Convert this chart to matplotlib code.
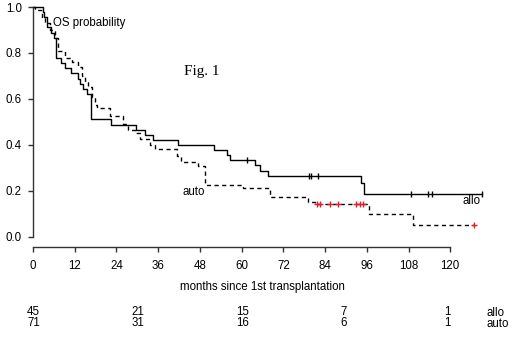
import matplotlib.pyplot as plt

plt.rcParams['font.family'] = ['Liberation Sans', 'DejaVu Sans']

# allo (solid) Kaplan-Meier steps
allo_t = [0, 2.8, 3.3, 4.0, 5.2, 6.0, 6.6, 8.0, 9.2, 11.0, 12.9, 13.6, 14.4, 15.6, 16.6,
          22.4, 29.6, 32.2, 34.5, 41.7, 52.0, 55.7, 56.6, 63.8, 65.2, 67.6, 94.3, 95.2, 129.0]
allo_s = [1.0, 0.978, 0.956, 0.911, 0.889, 0.867, 0.778, 0.756, 0.733, 0.711, 0.689, 0.667,
          0.644, 0.622, 0.511, 0.489, 0.467, 0.444, 0.422, 0.400, 0.378, 0.356, 0.333, 0.311,
          0.289, 0.265, 0.236, 0.189, 0.189]
allo_cens_t = [61.5, 79.4, 79.9, 82.0, 108.6, 113.5, 114.7, 129.0]
allo_cens_s = [0.333, 0.265, 0.265, 0.265, 0.189, 0.189, 0.189, 0.189]

# auto (dashed)
auto_t = [0, 0.7, 2.5, 3.5, 4.9, 6.3, 7.2, 9.2, 11.2, 12.9, 14.1, 14.9, 15.8, 17.0, 17.8,
          18.4, 22.1, 25.9, 27.3, 29.3, 30.7, 33.6, 35.0, 41.4, 42.5, 47.4, 49.4, 60.3,
          68.1, 79.0, 81.0, 96.6, 109.2, 126.7]
auto_s = [1.0, 0.986, 0.958, 0.93, 0.90, 0.865, 0.81, 0.78, 0.76, 0.74, 0.70, 0.675, 0.65,
          0.61, 0.574, 0.56, 0.526, 0.49, 0.465, 0.45, 0.426, 0.40, 0.383, 0.35, 0.325, 0.31,
          0.226, 0.213, 0.174, 0.152, 0.143, 0.10, 0.052, 0.052]
auto_cens_t = [81.6, 82.5, 85.3, 87.6, 92.8, 94.0, 94.8, 126.7]
auto_cens_s = [0.143] * 7 + [0.052]

# numbers at risk
risk_t = [0, 30, 60, 90, 120]
risk_allo = [45, 21, 15, 7, 1]
risk_auto = [71, 31, 16, 6, 1]

FS = 8.3
W, H = 520, 339
fig = plt.figure(figsize=(W / 100, H / 100), dpi=100)
ax = fig.add_axes([33 / W, 1 - 247 / H, (492 - 33) / W, (247 - 7) / H])
ax.set_xlim(0, 132)
ax.set_ylim(-0.0435, 1.0)

ax.step(allo_t, allo_s, where='post', color='black', lw=1.0, clip_on=False)
ax.step(auto_t, auto_s, where='post', color='black', lw=1.0, ls=(0, (3, 2.5)), clip_on=False)
ax.plot(allo_cens_t, allo_cens_s, ls='none', marker='|', ms=5, mew=1.0, color='black')
ax.plot(auto_cens_t, auto_cens_s, ls='none', marker='+', ms=5, mew=1.0, color='#e0202a')

for s in ['top', 'right']:
    ax.spines[s].set_visible(False)
ax.spines['left'].set_bounds(0, 1)
ax.spines['bottom'].set_bounds(0, 120)
for s in ['left', 'bottom']:
    ax.spines[s].set_color('#333333')
    ax.spines[s].set_linewidth(1.0)

ax.set_xticks(range(0, 121, 12))
ax.set_yticks([0, 0.2, 0.4, 0.6, 0.8, 1.0])
ax.set_yticklabels(['0.0', '0.2', '0.4', '0.6', '0.8', '1.0'])
ax.tick_params(axis='both', length=3.6, width=1.0, color='#333333', labelsize=FS)
ax.tick_params(axis='y', pad=4.5)
ax.tick_params(axis='x', pad=6)

ax.set_xlabel('months since 1st transplantation', fontsize=FS, labelpad=6)

ax.text(5.8, 0.93, 'OS probability', fontsize=FS, va='center')
ax.text(43.5, 0.72, 'Fig. 1', fontsize=11, va='center', family=['Liberation Serif'])
ax.text(43, 0.196, 'auto', fontsize=FS, va='center')
ax.text(123.5, 0.157, 'allo', fontsize=FS, va='center')

for t, a, b in zip(risk_t, risk_allo, risk_auto):
    ax.text(t - 1.7, -0.328, str(a), fontsize=FS, va='center', clip_on=False)
    ax.text(t - 1.7, -0.376, str(b), fontsize=FS, va='center', clip_on=False)
ax.text(130.5, -0.33, 'allo', fontsize=FS, va='center', clip_on=False)
ax.text(130.5, -0.378, 'auto', fontsize=FS, va='center', clip_on=False)

fig.savefig('out.png', dpi=100)
